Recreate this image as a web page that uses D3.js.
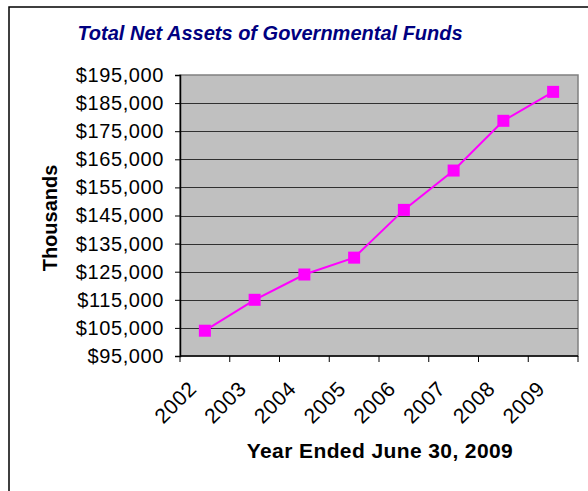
<!DOCTYPE html>
<html>
  <head>
    <meta charset="UTF-8">
    <title>Total Net Assets of Governmental Funds</title>
    <script src="https://d3js.org/d3.v7.min.js"></script>
    <style>
      body { margin: 0; background: #fff; }
      text { font-family: Arial, "Liberation Sans", sans-serif; }
    </style>
  </head>
  <body>
    <div id="chart"></div>
  <script>
// data
    var years = ["2002", "2003", "2004", "2005", "2006", "2007", "2008", "2009"];
    var netAssets = [104000, 115000, 124000, 130000, 147000, 161000, 178700, 189000];
    var yTicks = [95000, 105000, 115000, 125000, 135000, 145000, 155000, 165000, 175000, 185000, 195000];

    var width = 588, height = 491;
    var margin = {top: 75, right: 10, bottom: 135, left: 180};
    var plotW = 578 - margin.left,
        plotH = height - margin.top - margin.bottom;

    var svg = d3.select("#chart")
                .append("svg")
                .attr("width", width)
                .attr("height", height);

    // outer frame (only left and top edges show)
    svg.append("rect")
       .attr("x", 9).attr("y", 7)
       .attr("width", 620).attr("height", 520)
       .attr("fill", "none")
       .attr("stroke", "#000")
       .attr("stroke-width", 1.5);

    var xScale = d3.scaleBand()
                   .domain(years)
                   .range([0, plotW]);
    var yScale = d3.scaleLinear()
                   .domain([95000, 195000])
                   .range([plotH, 0]);

    var g = svg.append("g")
               .attr("transform", "translate(" + margin.left + "," + margin.top + ")");

    // plot background
    g.append("rect")
     .attr("width", plotW)
     .attr("height", plotH)
     .attr("fill", "#c0c0c0")
     .attr("stroke", "#808080")
     .attr("stroke-width", 1.5);

    // gridlines
    g.append("g")
     .selectAll("line")
     .data(yTicks.slice(1, -1))
     .enter()
     .append("line")
     .attr("x1", 0).attr("x2", plotW)
     .attr("y1", function(d) { return Math.round(yScale(d)) + 0.5; })
     .attr("y2", function(d) { return Math.round(yScale(d)) + 0.5; })
     .attr("stroke", "#303030")
     .attr("stroke-width", 1);

    // y axis
    var yAxis = d3.axisLeft(yScale)
                  .tickValues(yTicks)
                  .tickSize(5)
                  .tickPadding(11)
                  .tickFormat(function(d) { return "$" + d3.format(",")(d); });
    var ya = g.append("g").call(yAxis);
    ya.select(".domain").attr("stroke", "#000").attr("stroke-width", 1.5);
    ya.selectAll(".tick line").attr("stroke", "#000");
    ya.selectAll(".tick text")
      .attr("font-size", 20)
      .attr("letter-spacing", 0.6)
      .attr("fill", "#000")
      .attr("font-family", "Arial, 'Liberation Sans', sans-serif");

    // x axis (ticks at category boundaries)
    var xa = g.append("g").attr("transform", "translate(0," + plotH + ")");
    xa.append("line")
      .attr("x1", 0).attr("x2", plotW)
      .attr("stroke", "#000").attr("stroke-width", 1.5);
    xa.selectAll("line.tk")
      .data(years.concat(["end"]))
      .enter()
      .append("line")
      .attr("class", "tk")
      .attr("x1", function(d, i) { return i * xScale.step(); })
      .attr("x2", function(d, i) { return i * xScale.step(); })
      .attr("y1", 0).attr("y2", 6)
      .attr("stroke", "#000");
    xa.selectAll("text")
      .data(years)
      .enter()
      .append("text")
      .attr("transform", function(d) {
        return "translate(" + (xScale(d) + xScale.bandwidth() / 2 - 7) + ",34) rotate(-45)";
      })
      .attr("text-anchor", "end")
      .attr("font-size", 21)
      .attr("letter-spacing", 0.6)
      .attr("fill", "#000")
      .text(function(d) { return d; });

    // line
    var line = d3.line()
                 .x(function(d, i) { return xScale(years[i]) + xScale.bandwidth() / 2; })
                 .y(function(d) { return yScale(d); });
    g.append("path")
     .attr("d", line(netAssets))
     .attr("fill", "none")
     .attr("stroke", "#ff00ff")
     .attr("stroke-width", 2);

    // markers
    g.selectAll("rect.mk")
     .data(netAssets)
     .enter()
     .append("rect")
     .attr("class", "mk")
     .attr("x", function(d, i) { return xScale(years[i]) + xScale.bandwidth() / 2 - 6; })
     .attr("y", function(d) { return yScale(d) - 6; })
     .attr("width", 12).attr("height", 12)
     .attr("fill", "#ff00ff");

    // titles
    svg.append("text")
       .attr("x", 270).attr("y", 40)
       .attr("text-anchor", "middle")
       .attr("font-size", 20)
       .attr("font-weight", "bold")
       .attr("font-style", "italic")
       .attr("fill", "#000080")
       .text("Total Net Assets of Governmental Funds");

    svg.append("text")
       .attr("x", 380).attr("y", 458)
       .attr("text-anchor", "middle")
       .attr("font-size", 21)
       .attr("font-weight", "bold")
       .attr("letter-spacing", 0.4)
       .attr("fill", "#000")
       .text("Year Ended June 30, 2009");

    svg.append("text")
       .attr("transform", "translate(57,218) rotate(-90)")
       .attr("text-anchor", "middle")
       .attr("font-size", 20)
       .attr("font-weight", "bold")
       .attr("fill", "#000")
       .text("Thousands");
  </script>
  </body>
</html>
